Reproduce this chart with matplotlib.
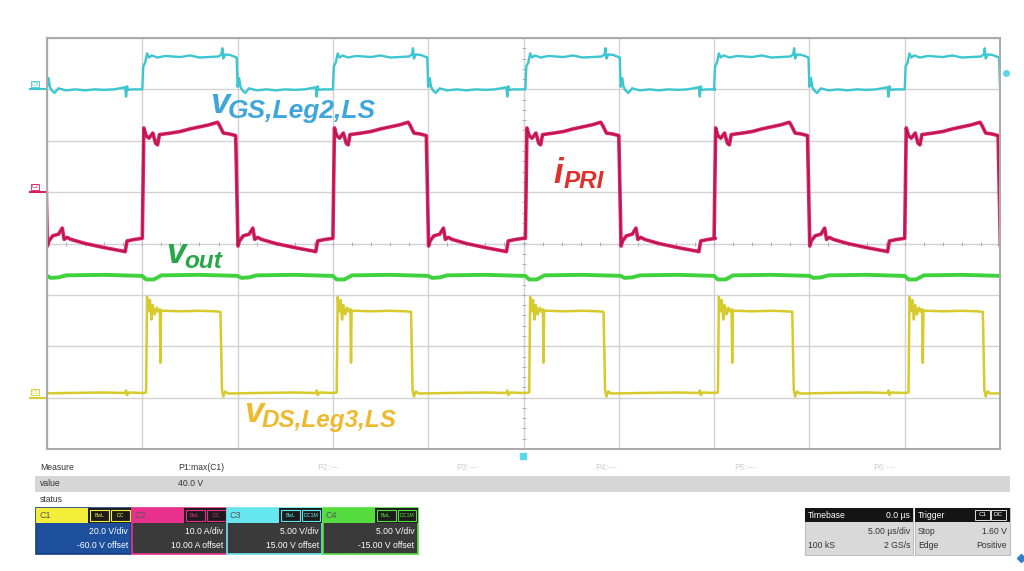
import matplotlib
matplotlib.use('Agg')
import matplotlib.pyplot as plt
from matplotlib.patches import Rectangle
import numpy as np

# Waveforms: one switching period, time relative to the VGS rising edge [us],
# level in screen divisions (8 div high, 5 us/div)
period_starts = [-30.0, -20.0, -10.0, 0.1, 10.0, 20.0]

vgs_t = [0.00, 0.05, 0.15, 0.25, 0.35, 0.50, 0.80, 1.20, 1.60, 2.00, 2.50, 3.00,
         3.50, 4.00, 4.15, 4.20, 4.25, 4.35, 4.60, 4.95, 5.00, 5.08, 5.15, 5.25,
         5.40, 5.60, 6.00, 6.50, 7.00, 7.50, 8.00, 8.50, 9.10, 9.15, 9.20, 9.25,
         9.50, 9.95]
vgs_v = [3.00, 3.45, 3.52, 3.70, 3.62, 3.66, 3.62, 3.65, 3.64, 3.63, 3.66, 3.62,
         3.63, 3.64, 3.68, 3.80, 3.60, 3.68, 3.67, 3.62, 3.05, 3.22, 3.05, 2.98,
         2.93, 3.02, 2.98, 3.00, 2.98, 3.00, 2.99, 3.00, 3.04, 2.86, 3.06, 2.99,
         3.00, 3.00]

ipri_t = [0.00, 0.08, 0.20, 0.35, 0.55, 0.70, 0.80, 0.90, 1.50, 2.00, 2.50, 3.00,
          3.50, 3.95, 4.05, 4.25, 4.60, 4.90, 5.02, 5.10, 5.30, 5.60, 5.80, 5.90,
          6.05, 6.25, 7.00, 8.00, 9.00, 9.10, 9.20, 9.60, 9.97]
ipri_v = [0.10, 2.25, 2.10, 2.05, 2.15, 1.95, 1.92, 2.12, 2.15, 2.18, 2.23, 2.27,
          2.31, 2.36, 2.30, 2.15, 2.13, 2.10, -0.05, 0.05, 0.15, 0.18, 0.30, 0.08,
          0.12, 0.08, 0.00, -0.08, -0.15, -0.16, 0.05, 0.08, 0.10]

vout_t = [0.00, 0.20, 0.60, 1.00, 3.00, 5.00, 5.20, 5.60, 6.00, 8.00, 9.90]
vout_v = [-0.63, -0.70, -0.70, -0.62, -0.61, -0.63, -0.67, -0.66, -0.62, -0.61, -0.63]

vds_t = [0.00, 0.20, 0.25, 0.32, 0.40, 0.48, 0.55, 0.65, 0.75, 0.85, 0.92, 0.95,
         0.98, 1.02, 1.20, 2.00, 3.00, 3.80, 4.10, 4.18, 4.25, 4.35, 4.50, 6.00,
         8.00, 9.10, 9.15, 9.20, 9.30, 9.95]
vds_v = [-2.91, -2.90, -1.04, -1.32, -1.10, -1.48, -1.20, -1.38, -1.25, -1.33,
         -1.28, -2.32, -1.30, -1.31, -1.31, -1.32, -1.31, -1.32, -1.33, -2.85,
         -2.98, -2.88, -2.92, -2.91, -2.90, -2.91, -2.86, -2.95, -2.90, -2.91]

# Channel setup shown in the bottom panel
ch_names   = ['C1', 'C2', 'C3', 'C4']
ch_scale   = ['20.0 V/div', '10.0 A/div', '5.00 V/div', '5.00 V/div']
ch_offset  = ['-60.0 V offset', '10.00 A offset', '15.00 V offset', '-15.00 V offset']
ch_head    = ['#f2ee3a', '#e8308c', '#66e6ee', '#55dd40']
ch_body    = ['#1d4f9c', '#3a3a3a', '#3a3a3a', '#3a3a3a']
ch_marker  = [('C3', 3.0, '#3cc8d0'), ('C2', 1.0, '#d81b60'), ('C1', -3.0, '#d8cc30')]
meas_names = ['P1:max(C1)', 'P2:---', 'P3:---', 'P4:---', 'P5:---', 'P6:---']
meas_value = '40.0 V'

W, H = 1024, 571
FONT = 'Liberation Sans'


def tile(t, v):
  tt, vv = [], []
  for t0 in period_starts:
    tt += [t0 + x for x in t]
    vv += list(v)
  return tt, vv


def px(x, y):
  return x / W, 1 - y / H


fig = plt.figure(figsize=(W / 100, H / 100), dpi=100)
fig.patch.set_facecolor('white')

# Scope screen
ax = fig.add_axes([47 / W, 1 - 449 / H, 953 / W, 411 / H])
ax.set_xlim(-25, 25)
ax.set_ylim(-4, 4)
ax.set_xticks(np.arange(-25, 26, 5))
ax.set_yticks(np.arange(-4, 5, 1))
ax.tick_params(length=0, labelbottom=False, labelleft=False)
ax.grid(True, color='#d2d2d2', lw=1.0)
for s in ax.spines.values():
  s.set_color('#ababab')
  s.set_linewidth(1.5)

# center line minor ticks
mx = np.arange(-25, 25.01, 1.0)
ax.plot(mx, np.zeros_like(mx), ls='none', marker='|', ms=3, color='#b0b0b0', mew=0.7)
my = np.arange(-4, 4.01, 0.2)
ax.plot(np.zeros_like(my), my, ls='none', marker='_', ms=3, color='#b0b0b0', mew=0.7)

t, v = tile(vout_t, vout_v)
ax.plot(t, v, color='#3fd23c', lw=2.8, solid_joinstyle='round')
t, v = tile(vds_t, vds_v)
ax.plot(t, v, color='#d6ca2c', lw=1.8)
t, v = tile(ipri_t, ipri_v)
ax.plot(t, v, color='#e0206e', lw=2.6)
ax.plot(t, v, color='#a8183c', lw=0.8)
t, v = tile(vgs_t, vgs_v)
ax.plot(t, v, color='#3cc6cf', lw=1.7)

# channel offset markers at the left edge
for name, lvl, col in ch_marker:
  ax.annotate(name, xy=(-25, lvl), xytext=(-6, 2), textcoords='offset points',
              fontsize=4, color=col, ha='right', va='bottom', annotation_clip=False,
              bbox=dict(boxstyle='square,pad=0.1', fc='white', ec=col, lw=0.6))
  ax.plot([-25.9, -25], [lvl, lvl], color=col, lw=1.5, clip_on=False)

# trace labels
def label(x, y, main, sub, col, size_main=25, size_sub=17.5, dx=18, dy=5):
  fig.text(*px(x, y), main, fontsize=size_main, color=col, family=FONT,
           weight='bold', style='italic', va='baseline')
  fig.text(*px(x + dx, y + dy), sub, fontsize=size_sub, color=col, family=FONT,
           weight='bold', style='italic', va='baseline')

label(210, 113, 'v', 'GS,Leg2,LS', '#3fa6dc', size_sub=19)
label(553, 183, 'i', 'PRI', '#e0302c', dx=11)
label(166, 263, 'v', 'out', '#27a846')
label(244, 422, 'v', 'DS,Leg3,LS', '#efb92e')

# Bottom info panel, drawn in pixel coordinates
pan = fig.add_axes([0, 0, 1, 1])
pan.set_xlim(0, W)
pan.set_ylim(H, 0)
pan.axis('off')

def txt(x, y, s, col='#333333', size=6.2, ha='left', **kw):
  pan.text(x, y, s, color=col, fontsize=size, ha=ha, va='center', family=FONT, **kw)

pan.add_patch(Rectangle((35, 476), 975, 16, fc='#d6d6d6', ec='none'))
txt(40, 468, 'Measure')
txt(40, 484, 'value')
txt(40, 499, 'status')
for i, name in enumerate(meas_names):
  x = 178 + i * 139
  txt(x, 468, name, col='#333333' if i == 0 else '#cfcfcf')
txt(178, 484, meas_value)

for i in range(4):
  x0 = 36 + i * 95.5
  pan.add_patch(Rectangle((x0, 508), 95, 46, fc=ch_body[i], ec=ch_head[i] if i else '#183f80', lw=1.2))
  pan.add_patch(Rectangle((x0, 508), 95, 15, fc='#1c1c1c', ec='none'))
  pan.add_patch(Rectangle((x0, 508), 52, 15, fc=ch_head[i], ec='none'))
  txt(x0 + 3, 515.5, ch_names[i], col='#555555', size=6.5)
  for bx, bl in [(x0 + 54, 'BwL'), (x0 + 75, 'DC' if i < 2 else 'DC1M')]:
    bw = 19 if bl != 'DC1M' else 18
    pan.add_patch(Rectangle((bx, 510), bw, 11, fc='#1c1c1c', ec=ch_head[i], lw=0.8))
    txt(bx + bw / 2, 515.5, bl, col=ch_head[i], size=3.8, ha='center')
  txt(x0 + 92, 531, ch_scale[i], col='white', ha='right')
  txt(x0 + 92, 546, ch_offset[i], col='white', ha='right')

# timebase and trigger
pan.add_patch(Rectangle((805, 508), 108, 47, fc='#d9d9d9', ec='#c0c0c0', lw=0.8))
pan.add_patch(Rectangle((805, 508), 108, 14, fc='#141414', ec='none'))
txt(808, 515, 'Timebase', col='white')
txt(910, 515, '0.0 µs', col='white', ha='right')
txt(910, 531, '5.00 µs/div', ha='right')
txt(808, 546, '100 kS')
txt(910, 546, '2 GS/s', ha='right')

pan.add_patch(Rectangle((915, 508), 95, 47, fc='#d9d9d9', ec='#c0c0c0', lw=0.8))
pan.add_patch(Rectangle((915, 508), 95, 14, fc='#141414', ec='none'))
txt(918, 515, 'Trigger', col='white')
for bx, bl in [(975, 'C1'), (991, 'DC')]:
  pan.add_patch(Rectangle((bx, 510), 15, 10, fc='#141414', ec='white', lw=0.6))
  txt(bx + 7.5, 515, bl, col='white', size=4.5, ha='center')
txt(918, 531, 'Stop')
txt(1007, 531, '1.60 V', ha='right')
txt(918, 546, 'Edge')
txt(1007, 546, 'Positive', ha='right')

# trigger position / level markers
pan.plot([523], [456], marker='s', ms=4, color='#5ad8e8')
pan.plot([1006], [73], marker='o', ms=4, color='#5ad8e8')
pan.plot([1021], [558], marker='D', ms=4, color='#2a7fd0')

fig.savefig('out.png', dpi=100)
